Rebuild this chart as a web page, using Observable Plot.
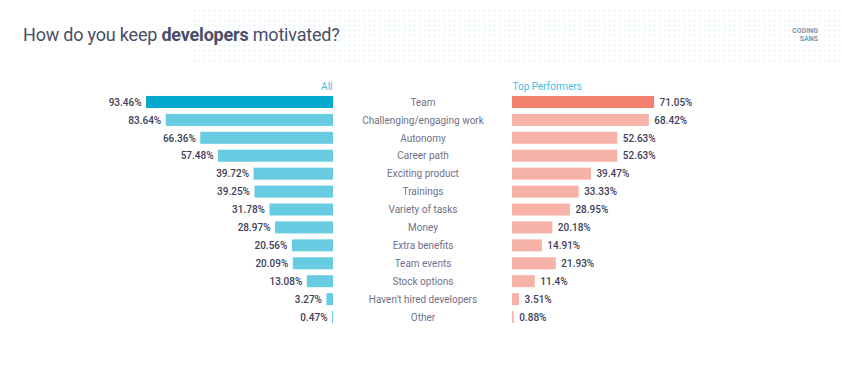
<!DOCTYPE html>
<html>
<head>
<meta charset="utf-8">
<script src="https://cdn.jsdelivr.net/npm/d3@7"></script>
<script src="https://cdn.jsdelivr.net/npm/@observablehq/plot@0.6"></script>
<style>
  html, body { margin: 0; padding: 0; background: #fff; }
  body { width: 842px; height: 380px; position: relative; overflow: hidden; font-family: Roboto, "Noto Sans", sans-serif; }
  #dots { position: absolute; left: 192px; top: 8px; width: 650px; height: 55px;
    background-image: radial-gradient(circle, #e6f3f7 0.9px, transparent 1.1px);
    background-size: 5px 5px; }
  #title { position: absolute; left: 23px; top: 24px; font-size: 18px; color: #4a4d68; font-weight: 400; letter-spacing: -0.2px; }
  #title b { font-weight: 700; }
  #logo { position: absolute; right: 24px; top: 27px; font-size: 7px; font-weight: 700; color: #8b8ea3; line-height: 8px; text-align: right; letter-spacing: 0px; }
  #logo span { color: #3fc0e0; }
  #chart { position: absolute; left: 0; top: 70px; }
</style>
</head>
<body>
<div id="dots"></div>
<div id="title">How do you keep <b>developers</b> motivated?</div>
<div id="logo">COD<span>I</span>NG<br>S<span>A</span>NS</div>
<div id="chart"></div>
<script>
const categories = ["Team", "Challenging/engaging work", "Autonomy", "Career path", "Exciting product", "Trainings", "Variety of tasks", "Money", "Extra benefits", "Team events", "Stock options", "Haven't hired developers", "Other"];
const allValues = [93.46, 83.64, 66.36, 57.48, 39.72, 39.25, 31.78, 28.97, 20.56, 20.09, 13.08, 3.27, 0.47];
const topValues = [71.05, 68.42, 52.63, 52.63, 39.47, 33.33, 28.95, 20.18, 14.91, 21.93, 11.4, 3.51, 0.88];
const allLabels = ["93.46%", "83.64%", "66.36%", "57.48%", "39.72%", "39.25%", "31.78%", "28.97%", "20.56%", "20.09%", "13.08%", "3.27%", "0.47%"];
const topLabels = ["71.05%", "68.42%", "52.63%", "52.63%", "39.47%", "33.33%", "28.95%", "20.18%", "14.91%", "21.93%", "11.4%", "3.51%", "0.88%"];
const seriesNames = ["All", "Top Performers"];

const GAP = 44.75; // half-width of the central label column, in % units
const rows = categories.map((c, i) => ({
  cat: c, all: allValues[i], top: topValues[i],
  allLabel: allLabels[i], topLabel: topLabels[i], first: i === 0
}));

const chart = Plot.plot({
  width: 842,
  height: 270,
  marginLeft: 0, marginRight: 0, marginTop: 23, marginBottom: 14,
  style: { fontFamily: "Roboto, 'Noto Sans', sans-serif", fontSize: "10px", background: "transparent" },
  x: { domain: [-211.25, 209.75], axis: null },
  y: { domain: categories, axis: null, paddingInner: 0.33, paddingOuter: 0.165, round: false },
  marks: [
    Plot.rectX(rows, { y: "cat", x1: -GAP, x2: d => -GAP - d.all, fill: d => d.first ? "#03a9cd" : "#67cbe1" }),
    Plot.rectX(rows, { y: "cat", x1: GAP, x2: d => GAP + d.top, fill: d => d.first ? "#f37f6f" : "#f7b2a8" }),
    Plot.text(rows, { y: "cat", x: d => -GAP - d.all, text: "allLabel", textAnchor: "end", dx: -5, fill: "#3e4059", fontWeight: 500 }),
    Plot.text(rows, { y: "cat", x: d => GAP + d.top, text: "topLabel", textAnchor: "start", dx: 5, fill: "#3e4059", fontWeight: 500 }),
    Plot.text(rows, { y: "cat", x: 0, text: "cat", textAnchor: "middle", fill: "#6f7189" }),
    Plot.text([seriesNames[0]], { y: () => categories[0], x: -GAP, text: d => d, textAnchor: "end", dy: -16, dx: -1, fill: "#45bfdd" }),
    Plot.text([seriesNames[1]], { y: () => categories[0], x: GAP, text: d => d, textAnchor: "start", dy: -16, fill: "#45bfdd" })
  ]
});
document.getElementById("chart").appendChild(chart);
</script>
</body>
</html>
